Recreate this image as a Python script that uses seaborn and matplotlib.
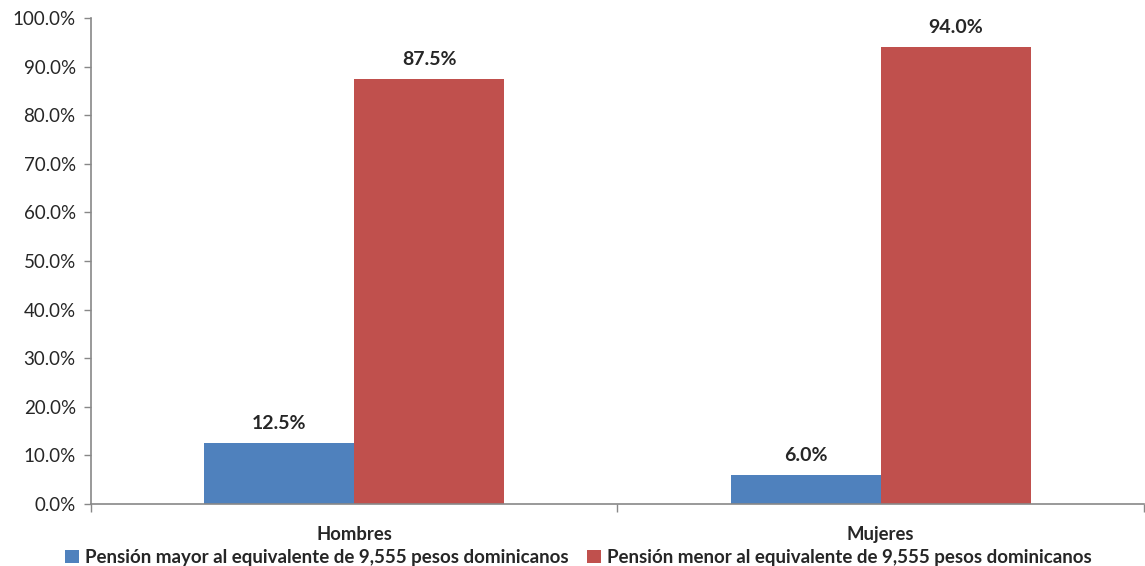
import matplotlib
matplotlib.use("Agg")
import matplotlib.pyplot as plt
from matplotlib.ticker import FixedLocator, FuncFormatter
import seaborn as sns
import pandas as pd

categories = ["Hombres", "Mujeres"]
series_names = [
    "Pensión mayor al equivalente de 9,555 pesos dominicanos",
    "Pensión menor al equivalente de 9,555 pesos dominicanos",
]
mayor_values = [12.5, 6.0]
menor_values = [87.5, 94.0]
colors = ["#4F81BD", "#C0504D"]

df = pd.DataFrame({
    "Sexo": categories * 2,
    "Serie": [series_names[0]] * 2 + [series_names[1]] * 2,
    "Porcentaje": mayor_values + menor_values,
})

sns.set_theme(style="white")
plt.rcParams["font.family"] = ["Lato", "DejaVu Sans"]

fig = plt.figure(figsize=(11.45, 5.66), dpi=100)
ax = fig.add_axes([0.0795, 0.1095, 0.9195, 0.8585])

sns.barplot(data=df, x="Sexo", y="Porcentaje", hue="Serie", order=categories,
            hue_order=series_names, palette=colors, width=0.57, saturation=1,
            linewidth=0, ax=ax, legend=True)

ax.set_xlim(-0.5, 1.5)
ax.set_ylim(0, 100)
ax.yaxis.set_major_locator(FixedLocator([i * 10 for i in range(11)]))
ax.yaxis.set_major_formatter(FuncFormatter(lambda v, p: f"{v:.1f}%"))
ax.tick_params(axis="y", which="major", length=5, width=1, color="#888888",
               direction="out", labelsize=13.5, pad=6, left=True)
ax.set_xticks([0, 1])
ax.set_xticklabels(categories, fontweight="bold", fontsize=13.3)
ax.tick_params(axis="x", which="major", length=0, pad=16)
ax.xaxis.set_minor_locator(FixedLocator([-0.5, 0.5, 1.5]))
ax.tick_params(axis="x", which="minor", length=6, width=1, color="#888888",
               direction="out", bottom=True)
ax.set_xlabel("")
ax.set_ylabel("")

for side in ["top", "right"]:
    ax.spines[side].set_visible(False)
for side in ["left", "bottom"]:
    ax.spines[side].set_color("#888888")
    ax.spines[side].set_linewidth(1.2)

for container in ax.containers:
    ax.bar_label(container, fmt="%.1f%%", padding=8, fontweight="bold", fontsize=14)

handles, labels = ax.get_legend_handles_labels()
ax.get_legend().remove()
fig.legend(handles, labels, loc="lower center", bbox_to_anchor=(0.505, -0.03),
           ncol=2, frameon=False, handlelength=0.75, handleheight=0.75,
           handletextpad=0.3, columnspacing=1.0,
           prop={"weight": "bold", "size": 13.5})

fig.savefig("out.png", dpi=100)
